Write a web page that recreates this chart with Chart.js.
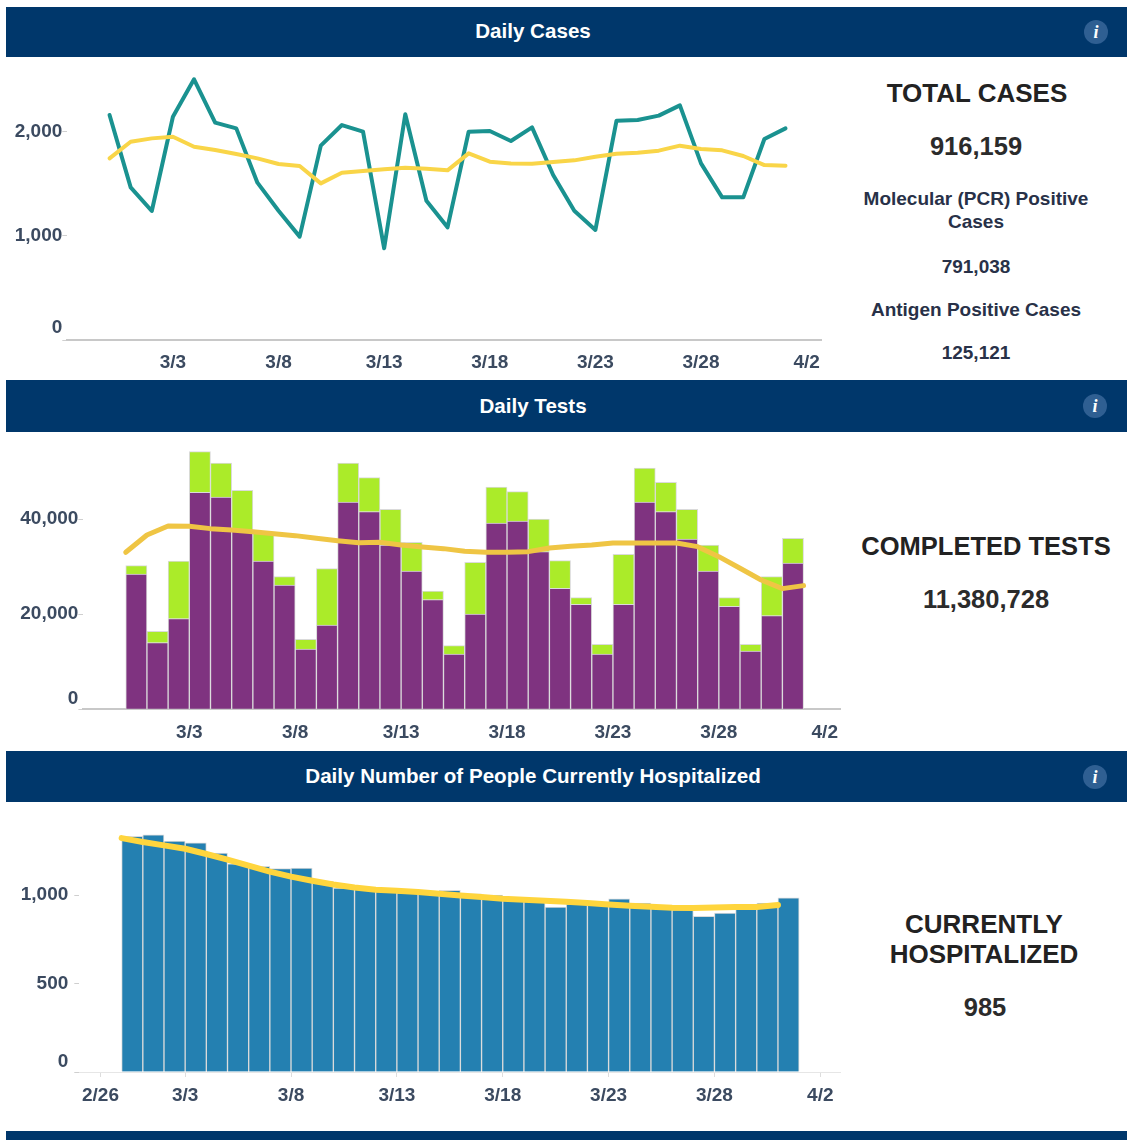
<!DOCTYPE html>
<html><head><meta charset="utf-8">
<script src="https://cdn.jsdelivr.net/npm/chart.js@4"></script>
<style>
html,body{margin:0;padding:0;background:#fff;width:1127px;height:1140px;overflow:hidden;font-family:"Liberation Sans",Arial,sans-serif}
.band{position:absolute;left:6px;width:1054px;padding-right:67px;background:#00376B;color:#fff;font-weight:bold;font-size:20.6px;text-align:center}
.info{position:absolute;width:24px;height:24px;border-radius:50%;background:#2F5F92;color:#fff;font:italic bold 18px/24px "Liberation Serif",serif;text-align:center}
.wrap{position:absolute}
.t{position:absolute;transform:translate(-50%,-50%);white-space:nowrap;font-weight:bold;text-align:center}
.h{font-size:26px;color:#222}.n{font-size:25.5px;color:#2b2b2b}.s{font-size:19px;color:#283148}
</style></head><body>
<div class="band" style="top:7px;height:50px;line-height:48px">Daily Cases</div>
<div class="band" style="top:380px;height:52px;line-height:52px">Daily Tests</div>
<div class="band" style="top:751px;height:51px;line-height:50px">Daily Number of People Currently Hospitalized</div>
<div class="band" style="top:1131px;height:9px"></div>
<div class="info" style="left:1084px;top:20px">i</div>
<div class="info" style="left:1083px;top:394px">i</div>
<div class="info" style="left:1083px;top:765px">i</div>

<div class="wrap" style="left:0;top:57px;width:830px;height:320px"><canvas id="c1"></canvas></div>
<div class="wrap" style="left:0;top:432px;width:850px;height:317px"><canvas id="c2"></canvas></div>
<div class="wrap" style="left:0;top:802px;width:850px;height:310px"><canvas id="c3"></canvas></div>

<div class="t h" style="left:977px;top:93px">TOTAL CASES</div>
<div class="t n" style="left:976px;top:146px">916,159</div>
<div class="t s" style="left:976px;top:199px">Molecular (PCR) Positive</div>
<div class="t s" style="left:976px;top:222px">Cases</div>
<div class="t s" style="left:976px;top:267px">791,038</div>
<div class="t s" style="left:976px;top:310px">Antigen Positive Cases</div>
<div class="t s" style="left:976px;top:353px">125,121</div>
<div class="t h" style="left:986px;top:546px;font-size:25.5px">COMPLETED TESTS</div>
<div class="t n" style="left:986px;top:599px">11,380,728</div>
<div class="t h" style="left:984px;top:924px">CURRENTLY</div>
<div class="t h" style="left:984px;top:954px">HOSPITALIZED</div>
<div class="t n" style="left:985px;top:1007px">985</div>

<script>
// x positions are days counted from 2/26
const firstDataDay = 2;
const tickDays = [5,10,15,20,25,30,35];
const tickLabels = ['3/3','3/8','3/13','3/18','3/23','3/28','4/2'];
const tickDaysHosp = [1,5,10,15,20,25,30,35];
const tickLabelsHosp = ['2/26','3/3','3/8','3/13','3/18','3/23','3/28','4/2'];

const dailyCases = [2159,1465,1238,2143,2502,2086,2031,1510,1241,992,1865,2063,1999,880,2166,1337,1081,1999,2006,1910,2041,1583,1241,1056,2105,2111,2153,2252,1695,1369,1369,1929,2031];
const casesAvg = [1743,1903,1935,1951,1855,1823,1785,1743,1689,1670,1503,1606,1622,1638,1654,1644,1628,1791,1711,1695,1692,1708,1724,1759,1788,1798,1817,1865,1833,1820,1766,1679,1673];
const testsMolecular = [28450,14014,19059,45615,44635,37700,31181,26136,12683,17728,43584,41551,34545,29079,23053,11632,20040,39169,39590,33143,25435,22072,11632,22072,43584,41551,35806,29079,21652,12262,19690,30761];
const testsAntigen = [1750,2382,12122,8549,7147,8336,6000,1752,2032,11842,8198,7148,7497,6000,1822,1751,10861,7568,6166,6867,5816,1401,2032,10511,7147,6167,6236,5466,1821,1402,8198,5185];
const testsAvg = [33003,36647,38538,38468,37978,37698,37347,36927,36506,35946,35455,35035,35105,34545,34124,33774,33213,33003,33003,33143,33914,34264,34545,34965,34965,34965,34965,34194,32092,29640,27187,25365,25996];
const hospitalized = [1333,1342,1306,1297,1238,1178,1163,1150,1153,1078,1040,1035,1022,1014,1010,1027,1008,1001,978,969,933,950,944,980,956,927,918,880,899,922,956,985];
const hospAvg = [1323,1301,1282,1263,1233,1201,1167,1133,1105,1082,1061,1044,1031,1025,1018,1008,999,990,980,975,969,963,956,948,941,935,929,927,931,933,933,944];

const yTicksCases=[0,1000,2000], yTicksTests=[0,20000,40000], yTicksHosp=[0,500,1000];

const axisColor='#3B4A60';
const atTick = a => a.map((y,i)=>({x:i+firstDataDay,y}));
const midDay = a => a.map((y,i)=>({x:i+firstDataDay+0.5,y}));
const lineDs=(data,color,w,stack)=>({type:'line',stack,data,borderColor:color,borderWidth:w,pointRadius:0,tension:0,clip:false,order:0,borderJoinStyle:'round',borderCapStyle:'round'});
const barDs=(data,color)=>({type:'bar',data,backgroundColor:color,borderColor:'#DADADA',borderWidth:1,order:1,barPercentage:1,categoryPercentage:1,stack:'s'});

function make(id,datasets,o){
  new Chart(document.getElementById(id),{
    data:{datasets},
    options:{
      responsive:true,maintainAspectRatio:false,animation:false,
      layout:{padding:{top:o.top,right:o.right,left:0,bottom:0}},
      plugins:{legend:{display:false},tooltip:{enabled:false}},
      scales:{
        x:{type:'linear',min:0,max:o.xMax,stacked:true,offset:false,
          grid:{offset:false,drawOnChartArea:false,drawTicks:o.xTickMarks,tickLength:5,color:'#DDDDDD'},
          border:{display:true,color:o.axisLine,width:o.axisWidth},
          afterBuildTicks:s=>{s.ticks=o.ticks.map(v=>({value:v}))},
          ticks:{autoSkip:false,maxRotation:0,minRotation:0,padding:o.xPad,color:axisColor,
            font:{family:'"Liberation Sans"',weight:'bold',size:19},
            callback:(v,i)=>o.labels[i]},
          afterFit:s=>{s.height=o.xH;s.paddingLeft=0;s.paddingRight=0}},
        y:{min:0,max:o.yMax,stacked:true,
          grid:{drawOnChartArea:false,drawTicks:true,tickLength:5,color:'#CFCFCF'},
          border:{display:false},
          afterBuildTicks:s=>{s.ticks=o.yTicks.map(v=>({value:v}))},
          ticks:{autoSkip:false,padding:o.yPad,color:axisColor,
            font:{family:'"Liberation Sans"',weight:'bold',size:19,lineHeight:o.zeroLift+'px'},
            callback:v=>v===0?['0','']:v.toLocaleString('en-US')},
          afterFit:s=>{s.width=o.left;s.paddingTop=0;s.paddingBottom=0}}
      }
    }
  });
}

make('c1',[lineDs(atTick(casesAvg),'#F9D548',4,'a'),lineDs(atTick(dailyCases),'#1A9290',4,'b')],
  {top:5,right:9,left:67.3,xMax:35.68,xH:37,yMax:2668,ticks:tickDays,labels:tickLabels,yTicks:yTicksCases,xTickMarks:false,xPad:11,yPad:0,axisLine:'#C8C8C8',axisWidth:2,zeroLift:24});
make('c2',[lineDs(atTick(testsAvg),'#EFC544',5,'a'),barDs(midDay(testsMolecular),'#7F3380'),barDs(midDay(testsAntigen),'#ABEB29')],
  {top:5,right:10,left:83.4,xMax:35.72,xH:39.7,yMax:57242,ticks:tickDays,labels:tickLabels,yTicks:yTicksTests,xTickMarks:false,xPad:12,yPad:0,axisLine:'#C8C8C8',axisWidth:2,zeroLift:22});
make('c3',[lineDs(atTick(hospAvg),'#FFD53D',6,'a'),barDs(midDay(hospitalized),'#2480B1')],
  {top:8,right:10,left:79.3,xMax:35.93,xH:40,yMax:1482,ticks:tickDaysHosp,labels:tickLabelsHosp,yTicks:yTicksHosp,xTickMarks:true,xPad:7,yPad:6,axisLine:'#E6E6E6',axisWidth:1,zeroLift:20});
</script>
</body></html>
